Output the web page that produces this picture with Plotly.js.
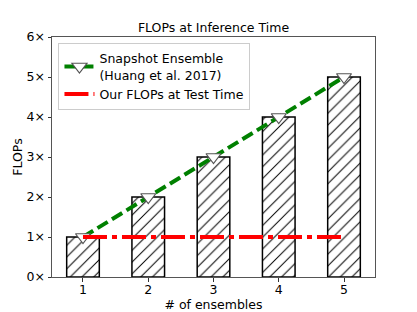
<!DOCTYPE html>
<html>
<head>
<meta charset="utf-8">
<script src="https://cdn.plot.ly/plotly-3.0.1.min.js"></script>
<style>html,body{margin:0;padding:0;background:#fff;}#chart{width:417px;height:312px;}</style>
</head>
<body>
<div id="chart"></div>
<script>
const ensembles = [1, 2, 3, 4, 5];
const flopsBars = [1, 2, 3, 4, 5];
const snapshotFlops = [1, 2, 3, 4, 5];
const ourFlops = [1, 1, 1, 1, 1];
const yTicks = [0, 1, 2, 3, 4, 5, 6];
const yTickText = ['0×', '1×', '2×', '3×', '4×', '5×', '6×'];
const seriesNames = ['Snapshot Ensemble<br>(Huang et al. 2017)', 'Our FLOPs at Test Time'];

const font = {family: 'DejaVu Sans', size: 12.5, color: '#000'};

const traces = [
  {
    type: 'bar', x: ensembles, y: flopsBars, width: 0.5, showlegend: false,
    marker: {color: 'white', line: {color: 'black', width: 1.5},
      pattern: {shape: '/', fgcolor: 'black', bgcolor: 'white', size: 8.3, solidity: 0.12}},
    hoverinfo: 'skip'
  },
  {
    type: 'scatter', mode: 'lines+markers', x: ensembles, y: snapshotFlops, name: seriesNames[0],
    line: {color: 'green', width: 4, dash: '12px,5px'},
    marker: {symbol: 'triangle-down', size: 13, color: 'white', line: {color: '#555', width: 1.2}}
  },
  {
    type: 'scatter', mode: 'lines', x: ensembles, y: ourFlops, name: seriesNames[1],
    line: {color: 'red', width: 4, dash: '24px,5px,5px,5px'}
  }
];

const layout = {
  width: 417, height: 312,
  margin: {l: 52, r: 42, t: 37, b: 35},
  paper_bgcolor: 'white', plot_bgcolor: 'white',
  font: font,
  showlegend: true,
  title: {text: 'FLOPs at Inference Time', font: font,
    x: 0.5, xref: 'paper', y: 1, yref: 'paper', yanchor: 'bottom', pad: {b: 5}},
  xaxis: {
    range: [0.525, 5.475], tickvals: ensembles, ticktext: ensembles.map(String),
    showgrid: false, zeroline: false, showline: true, mirror: true, linecolor: '#555', linewidth: 1,
    ticks: 'outside', ticklen: 3.5, tickcolor: '#333', tickfont: font, ticklabelstandoff: -3,
    title: {text: '# of ensembles', font: font, standoff: 2}
  },
  yaxis: {
    range: [0, 6], tickvals: yTicks, ticktext: yTickText,
    showgrid: false, zeroline: false, showline: true, mirror: true, linecolor: '#555', linewidth: 1,
    ticks: 'outside', ticklen: 3.5, tickcolor: '#333', tickfont: font,
    title: {text: 'FLOPs', font: font, standoff: 1}
  },
  legend: {
    x: 0.02, y: 0.976, xanchor: 'left', yanchor: 'top',
    bgcolor: 'rgba(255,255,255,0.8)', bordercolor: '#ccc', borderwidth: 1,
    font: font, itemwidth: 30, tracegroupgap: 0
  }
};

Plotly.newPlot('chart', traces, layout, {displayModeBar: false, staticPlot: true});
</script>
</body>
</html>
